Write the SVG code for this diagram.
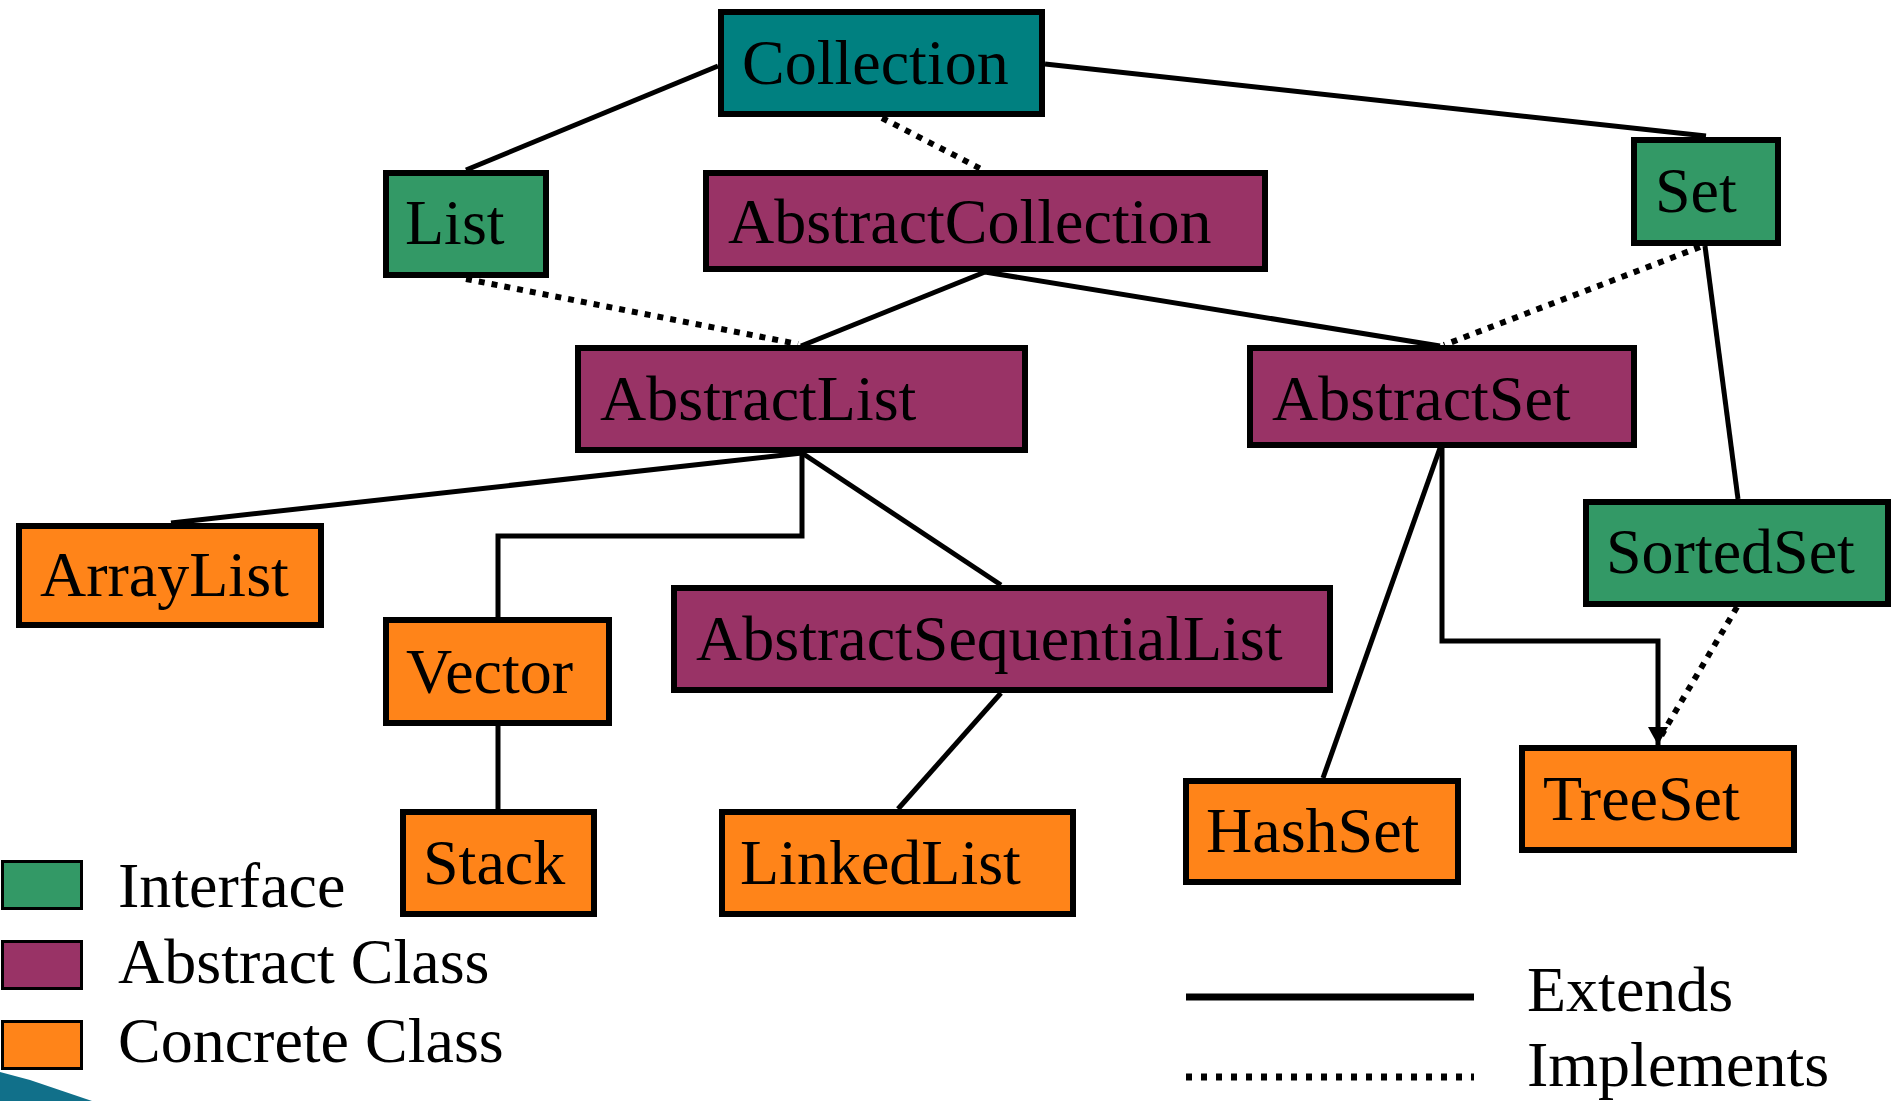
<svg xmlns="http://www.w3.org/2000/svg" width="1891" height="1101" viewBox="0 0 1891 1101">
<style>
  .box { stroke: #000; stroke-width: 6; }
  .iface { fill: #339966; }
  .coll { fill: #008080; }
  .abs { fill: #993366; }
  .conc { fill: #FF8419; }
  .lbl { font-family: "Liberation Serif", "Times New Roman", serif; font-size: 64px; fill: #000; }
  .ext { fill: none; stroke: #000; stroke-width: 5; }
  .impl { fill: none; stroke: #000; stroke-width: 6; stroke-dasharray: 6 7; }
  .key { stroke: #000; stroke-width: 3; }
</style>
<defs>
  <marker id="arrow" markerUnits="userSpaceOnUse" viewBox="0 0 18 20" refX="18" refY="10" markerWidth="18" markerHeight="20" orient="auto">
    <path d="M0 0 L18 10 L0 20 z" fill="#000"/>
  </marker>
</defs>
<rect width="1891" height="1101" fill="#fff"/>

<g id="connectors">
  <line class="ext" x1="718" y1="66" x2="466" y2="170"/>
  <line class="ext" x1="1045" y1="64" x2="1706" y2="136"/>
  <line class="impl" x1="882" y1="118" x2="983" y2="170"/>
  <line class="impl" x1="466" y1="279" x2="798" y2="344"/>
  <line class="ext" x1="985" y1="272" x2="801" y2="346"/>
  <line class="ext" x1="985" y1="272" x2="1440" y2="346"/>
  <line class="impl" x1="1700" y1="247" x2="1444" y2="345"/>
  <line class="ext" x1="1705" y1="246" x2="1738" y2="499"/>
  <line class="ext" x1="802" y1="453" x2="171" y2="523"/>
  <path class="ext" d="M802 453 V536 H498 V617"/>
  <line class="ext" x1="802" y1="453" x2="1001" y2="585"/>
  <line class="ext" x1="498" y1="726" x2="498" y2="809"/>
  <line class="ext" x1="1001" y1="693" x2="898" y2="809"/>
  <line class="ext" x1="1440" y1="448" x2="1323" y2="778"/>
  <path class="ext" d="M1442 448 V641 H1658 V745" marker-end="url(#arrow)"/>
  <line class="impl" x1="1737" y1="607" x2="1661" y2="736"/>
</g>

<g id="Collection"><rect class="box coll" x="721" y="12" width="321" height="102"/><text class="lbl" x="742" y="84">Collection</text></g>
<g id="List"><rect class="box iface" x="386" y="173" width="160" height="102"/><text class="lbl" x="405" y="244">List</text></g>
<g id="AbstractCollection"><rect class="box abs" x="706" y="173" width="559" height="96"/><text class="lbl" x="728" y="243">AbstractCollection</text></g>
<g id="Set"><rect class="box iface" x="1634" y="140" width="144" height="103"/><text class="lbl" x="1655" y="212">Set</text></g>
<g id="AbstractList"><rect class="box abs" x="578" y="348" width="447" height="102"/><text class="lbl" x="600" y="420">AbstractList</text></g>
<g id="AbstractSet"><rect class="box abs" x="1250" y="348" width="384" height="97"/><text class="lbl" x="1272" y="420">AbstractSet</text></g>
<g id="ArrayList"><rect class="box conc" x="19" y="526" width="302" height="99"/><text class="lbl" x="40" y="596">ArrayList</text></g>
<g id="SortedSet"><rect class="box iface" x="1586" y="502" width="302" height="102"/><text class="lbl" x="1606" y="573">SortedSet</text></g>
<g id="Vector"><rect class="box conc" x="386" y="620" width="223" height="103"/><text class="lbl" x="406" y="693">Vector</text></g>
<g id="AbstractSequentialList"><rect class="box abs" x="674" y="588" width="656" height="102"/><text class="lbl" x="696" y="660">AbstractSequentialList</text></g>
<g id="Stack"><rect class="box conc" x="403" y="812" width="191" height="102"/><text class="lbl" x="423" y="884">Stack</text></g>
<g id="LinkedList"><rect class="box conc" x="722" y="812" width="351" height="102"/><text class="lbl" x="740" y="884">LinkedList</text></g>
<g id="HashSet"><rect class="box conc" x="1186" y="781" width="272" height="101"/><text class="lbl" x="1206" y="852">HashSet</text></g>
<g id="TreeSet"><rect class="box conc" x="1522" y="748" width="272" height="102"/><text class="lbl" x="1543" y="820">TreeSet</text></g>

<g id="legend">
  <rect class="key iface" x="2.5" y="861.5" width="79" height="47"/>
  <text class="lbl" x="118" y="907">Interface</text>
  <rect class="key abs" x="2.5" y="941.5" width="79" height="47"/>
  <text class="lbl" x="118" y="983">Abstract Class</text>
  <rect class="key conc" x="2.5" y="1021.5" width="79" height="47"/>
  <text class="lbl" x="118" y="1062">Concrete Class</text>
  <line x1="1186" y1="997" x2="1474" y2="997" stroke="#000" stroke-width="7"/>
  <text class="lbl" x="1527" y="1011">Extends</text>
  <line x1="1186" y1="1077" x2="1474" y2="1077" stroke="#000" stroke-width="7" stroke-dasharray="6 9"/>
  <text class="lbl" x="1527" y="1086">Implements</text>
</g>

<polygon points="0,1072 30,1080 92,1101 0,1101" fill="#11708A"/>
</svg>
